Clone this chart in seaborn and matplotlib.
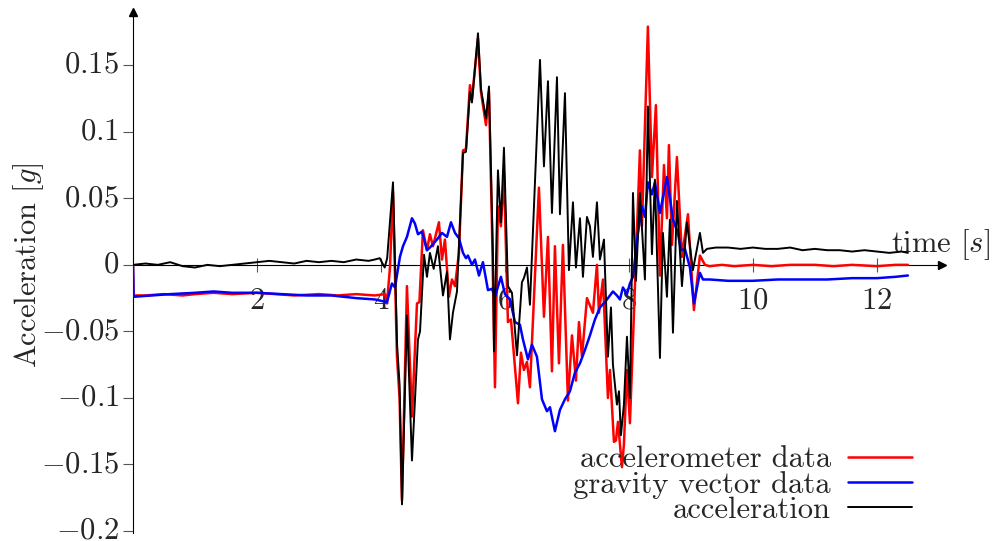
import matplotlib
matplotlib.use("Agg")
import matplotlib.pyplot as plt
import matplotlib.transforms as mtransforms
import seaborn as sns
from matplotlib.ticker import FixedLocator, FixedFormatter

# ---------------- data (time in s, acceleration in g) ----------------
t_accelerometer = [0.0, 0.01, 0.2, 0.5, 0.8, 1.0, 1.3, 1.6, 2.0, 2.3, 2.6, 3.0, 3.3, 3.6, 3.90,
                   4.065, 4.097, 4.145, 4.194, 4.258, 4.30, 4.339, 4.419, 4.500, 4.581, 4.62,
                   4.677, 4.742, 4.790, 4.839, 4.935, 4.984, 5.032, 5.097, 5.145, 5.194, 5.258,
                   5.323, 5.371, 5.435, 5.468, 5.565, 5.613, 5.694, 5.742, 5.790, 5.839, 5.887,
                   5.935, 5.984, 6.048, 6.097, 6.210, 6.258, 6.306, 6.355, 6.403, 6.548, 6.629,
                   6.694, 6.758, 6.806, 6.871, 6.935, 7.016, 7.081, 7.145, 7.194, 7.242, 7.323,
                   7.419, 7.484, 7.516, 7.581, 7.661, 7.694, 7.758, 7.790, 7.823, 7.887, 7.919,
                   7.968, 8.016, 8.177, 8.210, 8.306, 8.371, 8.435, 8.500, 8.565, 8.613, 8.645,
                   8.694, 8.774, 8.855, 8.952, 9.048, 9.145, 9.226, 9.3, 9.5, 9.7, 10.0, 10.3,
                   10.6, 11.0, 11.3, 11.6, 12.0, 12.3, 12.5]
a_accelerometer = [0.0, -0.023, -0.023, -0.022, -0.023, -0.022, -0.021, -0.022, -0.021, -0.022,
                   -0.023, -0.022, -0.023, -0.022, -0.023,
                   -0.022, -0.029, -0.002, 0.055, -0.069, -0.100, -0.177, -0.016, -0.114, -0.029,
                   -0.028, 0.026, 0.011, 0.023, 0.014, 0.032, 0.004, 0.019, -0.024, -0.011, -0.016,
                   0.009, 0.086, 0.087, 0.135, 0.125, 0.170, 0.130, 0.105, 0.130, 0.030, -0.092,
                   0.044, 0.029, 0.069, -0.043, -0.041, -0.104, -0.066, -0.079, -0.073, -0.092,
                   0.058, -0.039, 0.021, -0.080, 0.014, -0.074, 0.015, -0.102, -0.053, -0.087,
                   -0.043, -0.069, -0.025, -0.036, 0.000, -0.036, -0.011, -0.100, -0.079, -0.133,
                   -0.132, -0.118, -0.152, -0.135, -0.079, -0.119, 0.086, 0.029, 0.179, 0.066,
                   0.120, -0.008, 0.075, 0.035, 0.090, 0.015, 0.081, 0.006, 0.038, -0.034, 0.007,
                   0.000, -0.001, 0.000, -0.001, 0.000, -0.001, 0.000, 0.000, -0.001, 0.000,
                   -0.001, 0.000, 0.000]

t_gravity = [0.0, 0.01, 0.3, 0.6, 1.0, 1.3, 1.6, 2.0, 2.4, 2.8, 3.2, 3.6, 3.903, 4.097, 4.177,
             4.226, 4.306, 4.355, 4.419, 4.500, 4.548, 4.597, 4.661, 4.742, 4.790, 4.903, 4.984,
             5.065, 5.129, 5.194, 5.258, 5.323, 5.371, 5.403, 5.468, 5.516, 5.581, 5.645, 5.726,
             5.790, 5.839, 5.935, 6.000, 6.081, 6.161, 6.242, 6.290, 6.371, 6.435, 6.516, 6.597,
             6.677, 6.726, 6.806, 6.887, 6.968, 7.048, 7.129, 7.210, 7.290, 7.371, 7.452, 7.532,
             7.613, 7.742, 7.806, 7.855, 7.903, 7.968, 8.016, 8.065, 8.145, 8.210, 8.258, 8.306,
             8.371, 8.419, 8.500, 8.613, 8.710, 8.790, 8.839, 8.903, 8.984, 9.048, 9.145, 9.194,
             9.3, 9.6, 10.0, 10.4, 10.8, 11.2, 11.6, 12.0, 12.3, 12.5]
a_gravity = [0.0, -0.024, -0.023, -0.022, -0.021, -0.020, -0.021, -0.021, -0.022, -0.023, -0.023,
             -0.025, -0.026, -0.028, -0.014, -0.017, 0.006, 0.014, 0.021, 0.035, 0.031, 0.023,
             0.025, 0.011, 0.013, 0.019, 0.024, 0.021, 0.032, 0.024, 0.020, 0.009, 0.005, 0.007,
             0.000, 0.004, -0.008, 0.002, -0.019, -0.018, -0.024, -0.009, -0.022, -0.026, -0.043,
             -0.045, -0.056, -0.071, -0.060, -0.069, -0.101, -0.110, -0.107, -0.125, -0.109,
             -0.101, -0.095, -0.081, -0.074, -0.064, -0.053, -0.041, -0.032, -0.028, -0.020,
             -0.023, -0.026, -0.017, -0.022, -0.014, -0.009, 0.024, 0.044, 0.036, 0.062, 0.053,
             0.062, 0.039, 0.066, 0.034, 0.024, 0.011, 0.012, -0.002, -0.029, -0.006, -0.011,
             -0.011, -0.012, -0.012, -0.011, -0.011, -0.011, -0.010, -0.010, -0.009, -0.008]

t_acceleration = [0.0, 0.2, 0.4, 0.6, 0.8, 1.0, 1.2, 1.4, 1.6, 1.8, 2.0, 2.2, 2.4, 2.6, 2.8, 3.0,
                  3.2, 3.4, 3.6, 3.8, 3.90, 3.98, 4.06, 4.10, 4.194, 4.26, 4.30, 4.339, 4.419,
                  4.500, 4.597, 4.63, 4.694, 4.742, 4.790, 4.85, 4.919, 5.000, 5.065, 5.113,
                  5.161, 5.226, 5.323, 5.371, 5.435, 5.468, 5.565, 5.613, 5.694, 5.742, 5.806,
                  5.823, 5.887, 5.935, 5.984, 6.048, 6.113, 6.194, 6.274, 6.306, 6.355, 6.403,
                  6.565, 6.629, 6.694, 6.758, 6.839, 6.887, 6.968, 7.032, 7.097, 7.145, 7.210,
                  7.258, 7.323, 7.371, 7.419, 7.484, 7.532, 7.597, 7.661, 7.710, 7.742, 7.806,
                  7.839, 7.871, 7.919, 7.968, 8.016, 8.065, 8.113, 8.177, 8.258, 8.306, 8.371,
                  8.419, 8.500, 8.548, 8.613, 8.661, 8.710, 8.774, 8.855, 8.935, 9.032, 9.145,
                  9.194, 9.258, 9.4, 9.6, 9.8, 10.0, 10.2, 10.4, 10.6, 10.8, 11.0, 11.2, 11.4,
                  11.6, 11.8, 12.0, 12.2, 12.4, 12.5]
a_acceleration = [0.000, 0.001, 0.000, 0.002, -0.001, -0.002, 0.000, -0.001, 0.000, 0.001, 0.002,
                  0.003, 0.002, 0.001, 0.003, 0.002, 0.003, 0.002, 0.004, 0.003, 0.004, 0.005,
                  -0.002, 0.005, 0.062, -0.060, -0.090, -0.180, -0.038, -0.147, -0.056, -0.050,
                  0.0075, -0.009, 0.009, -0.003, 0.014, -0.023, -0.005, -0.056, -0.036, -0.020,
                  0.084, 0.085, 0.130, 0.122, 0.174, 0.132, 0.110, 0.134, 0.009, -0.065, 0.071,
                  0.032, 0.088, -0.016, -0.021, -0.068, -0.013, -0.010, -0.002, -0.030, 0.154,
                  0.074, 0.138, 0.039, 0.141, 0.038, 0.129, -0.004, 0.047, -0.002, 0.035, -0.009,
                  0.036, 0.029, 0.006, 0.047, 0.004, 0.019, -0.069, -0.032, -0.075, -0.105,
                  -0.095, -0.128, -0.105, -0.054, -0.100, 0.054, -0.012, 0.054, -0.011, 0.119,
                  0.008, 0.064, -0.070, 0.024, -0.024, 0.034, -0.051, 0.048, -0.016, 0.032,
                  -0.004, 0.024, 0.009, 0.012, 0.013, 0.013, 0.012, 0.013, 0.012, 0.012, 0.013,
                  0.011, 0.012, 0.011, 0.011, 0.010, 0.011, 0.010, 0.009, 0.010, 0.009]

series_labels = ["accelerometer data", "gravity vector data", "acceleration"]
series_colors = ["#ff0000", "#0000ff", "#000000"]

x_ticks = [2, 4, 6, 8, 10, 12]
x_tick_labels = ["$2$", "$4$", "$6$", "$8$", "$10$", "$12$"]
y_ticks = [-0.2, -0.15, -0.1, -0.05, 0.0, 0.05, 0.1, 0.15]
y_tick_labels = ["$-0.2$", "$-0.15$", "$-0.1$", "$-0.05$", "$0$", "$0.05$", "$0.1$", "$0.15$"]

# ---------------- style ----------------
sns.set_style("white")
plt.rcParams["font.family"] = ["cmr10"]
plt.rcParams["mathtext.fontset"] = "cm"
plt.rcParams["axes.unicode_minus"] = False
plt.rcParams["axes.formatter.use_mathtext"] = True
FS = 22

fig = plt.figure(figsize=(9.97, 5.41), dpi=100)
ax = fig.add_axes([133 / 997, 8 / 541, 809 / 997, 521 / 541])

sns.lineplot(x=t_accelerometer, y=a_accelerometer, ax=ax, color=series_colors[0], linewidth=1.8,
             label=series_labels[0], sort=False, estimator=None, zorder=3)
sns.lineplot(x=t_gravity, y=a_gravity, ax=ax, color=series_colors[1], linewidth=1.8,
             label=series_labels[1], sort=False, estimator=None, zorder=3)
sns.lineplot(x=t_acceleration, y=a_acceleration, ax=ax, color=series_colors[2], linewidth=1.4,
             label=series_labels[2], sort=False, estimator=None, zorder=3)

ax.set_xlim(0, 13.05)
ax.set_ylim(-0.2015, 0.19)

for s in ["top", "right"]:
    ax.spines[s].set_visible(False)
ax.spines["left"].set_position(("data", 0))
ax.spines["bottom"].set_position(("data", 0))
for s in ["left", "bottom"]:
    ax.spines[s].set_color("black")
    ax.spines[s].set_linewidth(0.8)
    ax.spines[s].set_zorder(2)

# axis arrow heads
ax.plot([1], [0], marker=">", color="black", markersize=6, transform=ax.get_yaxis_transform(),
        clip_on=False)
ax.plot([0], [1], marker="^", color="black", markersize=6, transform=ax.get_xaxis_transform(),
        clip_on=False)

ax.xaxis.set_major_locator(FixedLocator(x_ticks))
ax.xaxis.set_major_formatter(FixedFormatter(x_tick_labels))
ax.yaxis.set_major_locator(FixedLocator(y_ticks))
ax.yaxis.set_major_formatter(FixedFormatter(y_tick_labels))
ax.tick_params(axis="x", direction="inout", length=10, width=0.8, color="#555555",
               labelsize=FS, pad=11, bottom=True)
ax.tick_params(axis="y", direction="out", length=7, width=0.8, color="#555555",
               labelsize=FS, pad=3, left=True)

# nudge y tick labels up a little
shift = mtransforms.ScaledTranslation(0, 3 / 100, fig.dpi_scale_trans)
for lbl in ax.get_yticklabels():
    lbl.set_transform(lbl.get_transform() + shift)

ax.set_ylabel(r"Acceleration $[g]$", fontsize=FS)
ax.yaxis.set_label_coords((46 - 133) / 809, (533 - 265) / 521)
ax.set_xlabel(r"time $[s]$", fontsize=FS)
ax.xaxis.label.set_va("center")
ax.xaxis.set_label_coords((941 - 133) / 809, (533 - 245) / 521)

leg = ax.legend(loc="upper right", bbox_to_anchor=((912 - 133) / 809, (533 - 446) / 521),
                frameon=False, markerfirst=False, fontsize=FS, handlelength=2.1,
                handletextpad=0.55, labelspacing=-0.08, borderpad=0, borderaxespad=0)
leg.set_zorder(5)

fig.savefig("out.png", dpi=100)
